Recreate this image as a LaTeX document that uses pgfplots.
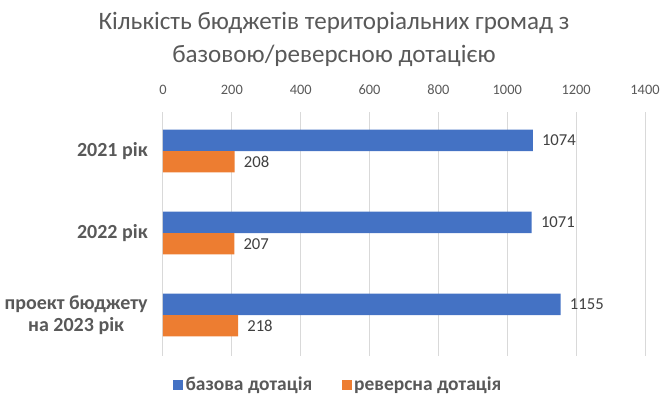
\documentclass[border=0pt]{standalone}
\usepackage{pgfplots}
\pgfplotsset{compat=1.18}
\usepackage{fontspec}
\setmainfont{Carlito}
\definecolor{cblue}{HTML}{4472C4}
\definecolor{corange}{HTML}{ED7D31}
\definecolor{tgray}{HTML}{595959}
\definecolor{lgray}{HTML}{404040}
\definecolor{grid}{HTML}{D9D9D9}
\begin{document}
\begin{tikzpicture}
\path[use as bounding box] (-122.25pt,-31.5pt) rectangle (377.25pt,267pt);
\begin{axis}[
  at={(0,0)}, anchor=south west,
  scale only axis,
  width=361.5pt, height=183pt,
  xbar, bar width=16pt,
  xmin=0, xmax=1400,
  ymin=-0.5, ymax=2.476,
  xtick={0,200,...,1400},
  xticklabel pos=upper,
  ytick={0,1,2},
  yticklabels={{проект бюджету\\на 2023 рік},{2022 рік},{2021 рік}},
  /pgf/number format/1000 sep={},
  /pgf/number format/assume math mode=true,
  major tick length=0pt,
  axis line style={draw=none},
  xmajorgrids,
  grid style={draw=grid, line width=0.75pt},
  xticklabel style={font=\fontsize{10.8}{12}\selectfont, text=tgray, yshift=9.5pt},
  yticklabel style={font=\fontsize{15}{16.5}\selectfont\bfseries, text=tgray, align=center, xshift=-8pt},
  nodes near coords,
  nodes near coords style={font=\fontsize{12.5}{14}\selectfont, text=lgray, anchor=west, inner sep=0pt, xshift=6.75pt},
  legend style={at={(0.364,0)}, anchor=center, yshift=-21.75pt, draw=none, font=\fontsize{14.6}{16}\selectfont\bfseries, text=tgray, legend columns=2, /tikz/every even column/.append style={column sep=20pt}},
  legend image code/.code={\fill[#1,draw=none] (0pt,-3.75pt) rectangle (7.5pt,3.75pt);},
]
\addplot[fill=cblue, draw=none, bar shift=8pt] coordinates {(1074,2) (1071,1) (1155,0)};
\addplot[fill=corange, draw=none, bar shift=-8pt] coordinates {(208,2) (207,1) (218,0)};
\legend{базова дотація, реверсна дотація}
\end{axis}
\node[align=center, text=tgray, font=\fontsize{18.8}{24.75}\selectfont] at (128.25pt,237.4pt) {Кількість бюджетів територіальних громад з\\базовою/реверсною дотацією};
\end{tikzpicture}
\end{document}
